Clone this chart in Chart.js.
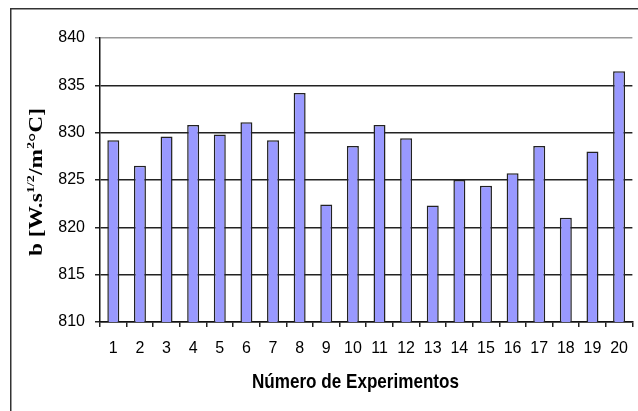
<!DOCTYPE html>
<html>
<head>
<meta charset="utf-8">
<script src="https://cdn.jsdelivr.net/npm/chart.js@4/dist/chart.umd.min.js"></script>
<style>
  html, body { margin: 0; padding: 0; background: #ffffff; overflow: hidden; }
  #wrap { position: absolute; left: 0; top: 0; width: 640px; height: 411px; }
  canvas { display: block; }
</style>
</head>
<body>
<div id="wrap"><canvas id="c" width="640" height="411" style="width:640px;height:411px"></canvas></div>
<script>
// ---- data ----
const categories = ['1','2','3','4','5','6','7','8','9','10','11','12','13','14','15','16','17','18','19','20'];
const bValues = [829.2, 826.5, 829.6, 830.8, 829.8, 831.1, 829.2, 834.2, 822.4, 828.6,
                 830.8, 829.4, 822.3, 825.0, 824.4, 825.7, 828.6, 821.0, 828.0, 836.5];
const yMin = 810;
const yMax = 840;
const yStep = 5;
const xTitle = 'Número de Experimentos';
const yTitleParts = [
  { text: 'b [W.s', sup: false },
  { text: '1/2', sup: true },
  { text: '/m', sup: false },
  { text: '2', sup: true },
  { text: '°C]', sup: false }
];

// ---- custom drawing of frame and axis titles ----
const decorPlugin = {
  id: 'decor',
  beforeDraw(chart) {
    const ctx = chart.ctx;
    ctx.save();
    ctx.fillStyle = '#ffffff';
    ctx.fillRect(0, 0, chart.width, chart.height);
    ctx.strokeStyle = '#333333';
    ctx.lineWidth = 1.5;
    ctx.beginPath();
    ctx.moveTo(10.75, chart.height + 2);
    ctx.lineTo(10.75, 8.75);
    ctx.lineTo(chart.width + 2, 8.75);
    ctx.stroke();
    ctx.restore();
  },
  afterDraw(chart) {
    const ctx = chart.ctx;
    // x title
    ctx.save();
    ctx.font = 'bold 18px "Liberation Sans", Arial, sans-serif';
    ctx.fillStyle = '#000000';
    const w = ctx.measureText(xTitle).width;
    ctx.translate(355.5, 388);
    ctx.scale(207 / w, 1.16);
    ctx.textAlign = 'center';
    ctx.textBaseline = 'alphabetic';
    ctx.fillText(xTitle, 0, 0);
    ctx.restore();

    // y title (rotated, with superscripts)
    ctx.save();
    const mainFont = 'bold 18px "Liberation Serif", "Times New Roman", serif';
    const supFont = 'bold 11px "Liberation Serif", "Times New Roman", serif';
    let total = 0;
    const widths = yTitleParts.map(p => {
      ctx.font = p.sup ? supFont : mainFont;
      const mw = ctx.measureText(p.text).width;
      total += mw;
      return mw;
    });
    const target = 148;
    ctx.translate(42, 182);
    ctx.rotate(-Math.PI / 2);
    ctx.scale(target / total, 1);
    ctx.fillStyle = '#000000';
    ctx.textAlign = 'left';
    ctx.textBaseline = 'alphabetic';
    let x = -total / 2;
    yTitleParts.forEach((p, i) => {
      ctx.font = p.sup ? supFont : mainFont;
      ctx.fillText(p.text, x, p.sup ? -8 : 0);
      x += widths[i];
    });
    ctx.restore();
  }
};

new Chart(document.getElementById('c'), {
  type: 'bar',
  data: {
    labels: categories,
    datasets: [{
      data: bValues,
      backgroundColor: '#9999ff',
      borderColor: '#222222',
      borderWidth: 1.5,
      borderSkipped: false,
      categoryPercentage: 1.0,
      barPercentage: 0.45
    }]
  },
  options: {
    responsive: false,
    animation: false,
    devicePixelRatio: 1,
    layout: { padding: { top: 38, right: 1, left: 0, bottom: 0 } },
    plugins: {
      legend: { display: false },
      tooltip: { enabled: false },
      title: { display: false }
    },
    scales: {
      x: {
        type: 'category',
        offset: true,
        grid: {
          display: true,
          drawOnChartArea: false,
          drawTicks: true,
          tickLength: 5,
          color: '#222222',
          lineWidth: 1.5,
          offset: true
        },
        border: { display: true, color: '#111111', width: 1.5 },
        ticks: {
          color: '#000000',
          font: { family: '"Liberation Sans", Arial, sans-serif', size: 16 },
          padding: 12,
          maxRotation: 0,
          autoSkip: false
        },
        afterFit(scale) { scale.height = 89; }
      },
      y: {
        min: yMin,
        max: yMax,
        ticks: {
          stepSize: yStep,
          color: '#000000',
          font: { family: '"Liberation Sans", Arial, sans-serif', size: 16 },
          padding: 10
        },
        grid: {
          drawOnChartArea: true,
          drawTicks: true,
          tickLength: 5,
          lineWidth: 1.5,
          color: (c) => (c.tick && c.tick.value === yMax) ? '#9a9a9a' : '#222222'
        },
        border: { display: true, color: '#111111', width: 1.5 },
        afterFit(scale) { scale.width = 100; }
      }
    }
  },
  plugins: [decorPlugin]
});
</script>
</body>
</html>
